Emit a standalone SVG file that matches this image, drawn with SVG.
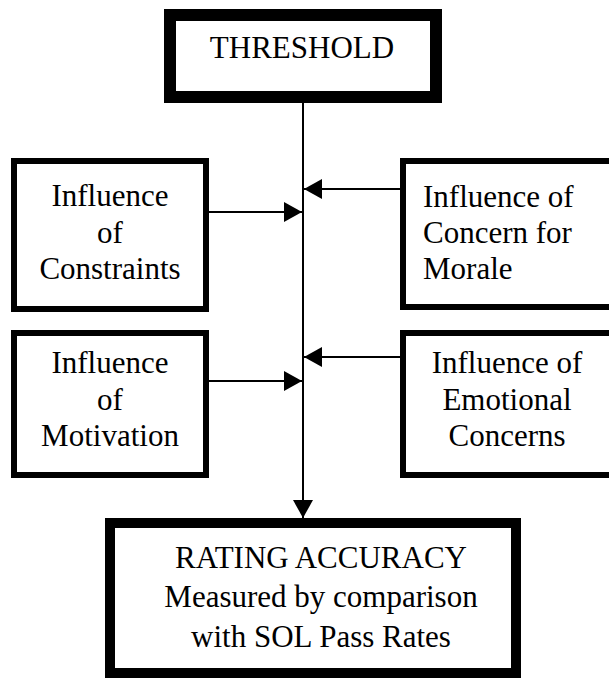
<svg xmlns="http://www.w3.org/2000/svg" width="609" height="678" viewBox="0 0 609 678">
<style>
.box{fill:#fff;stroke:#000}
.t{font-family:"Liberation Serif","Times New Roman",serif;font-size:31px;fill:#000}
.c{text-anchor:middle}
.ln{stroke:#000;stroke-width:2;fill:none}
</style>
<defs>
<marker id="ah" markerWidth="20" markerHeight="20" refX="18" refY="10" orient="auto" markerUnits="userSpaceOnUse">
<path d="M0,0 L18,10 L0,20 Z" fill="#000"/>
</marker>
</defs>
<rect width="609" height="678" fill="#fff"/>
<g id="threshold">
<rect class="box" x="170" y="15" width="266" height="82" stroke-width="12"/>
<text class="t c" x="302" y="58" font-size="32">THRESHOLD</text>
</g>
<g id="constraints">
<rect class="box" x="14" y="161" width="192" height="148" stroke-width="6"/>
<text class="t c" x="110" y="206">Influence</text>
<text class="t c" x="110" y="243">of</text>
<text class="t c" x="110" y="279">Constraints</text>
</g>
<g id="morale">
<rect class="box" x="403" y="161" width="220" height="146" stroke-width="6"/>
<text class="t" x="423" y="207">Influence of</text>
<text class="t" x="423" y="243">Concern for</text>
<text class="t" x="423" y="279">Morale</text>
</g>
<g id="motivation">
<rect class="box" x="14" y="333" width="192" height="142" stroke-width="6"/>
<text class="t c" x="110" y="373">Influence</text>
<text class="t c" x="110" y="410">of</text>
<text class="t c" x="110" y="446">Motivation</text>
</g>
<g id="emotional">
<rect class="box" x="403" y="333" width="220" height="142" stroke-width="6"/>
<text class="t c" x="507" y="373">Influence of</text>
<text class="t c" x="507" y="410">Emotional</text>
<text class="t c" x="507" y="446">Concerns</text>
</g>
<g id="accuracy">
<rect class="box" x="110" y="523" width="406" height="150" stroke-width="10"/>
<text class="t c" x="321" y="568" font-size="30">RATING ACCURACY</text>
<text class="t c" x="321" y="607" font-size="30">Measured by comparison</text>
<text class="t c" x="321" y="647" font-size="30">with SOL Pass Rates</text>
</g>
<g id="connectors">
<line class="ln" x1="303" y1="103" x2="303" y2="518" marker-end="url(#ah)"/>
<line class="ln" x1="209" y1="212" x2="302" y2="212" marker-end="url(#ah)"/>
<line class="ln" x1="400" y1="189" x2="304" y2="189" marker-end="url(#ah)"/>
<line class="ln" x1="209" y1="381" x2="302" y2="381" marker-end="url(#ah)"/>
<line class="ln" x1="400" y1="357" x2="304" y2="357" marker-end="url(#ah)"/>
</g>
</svg>
